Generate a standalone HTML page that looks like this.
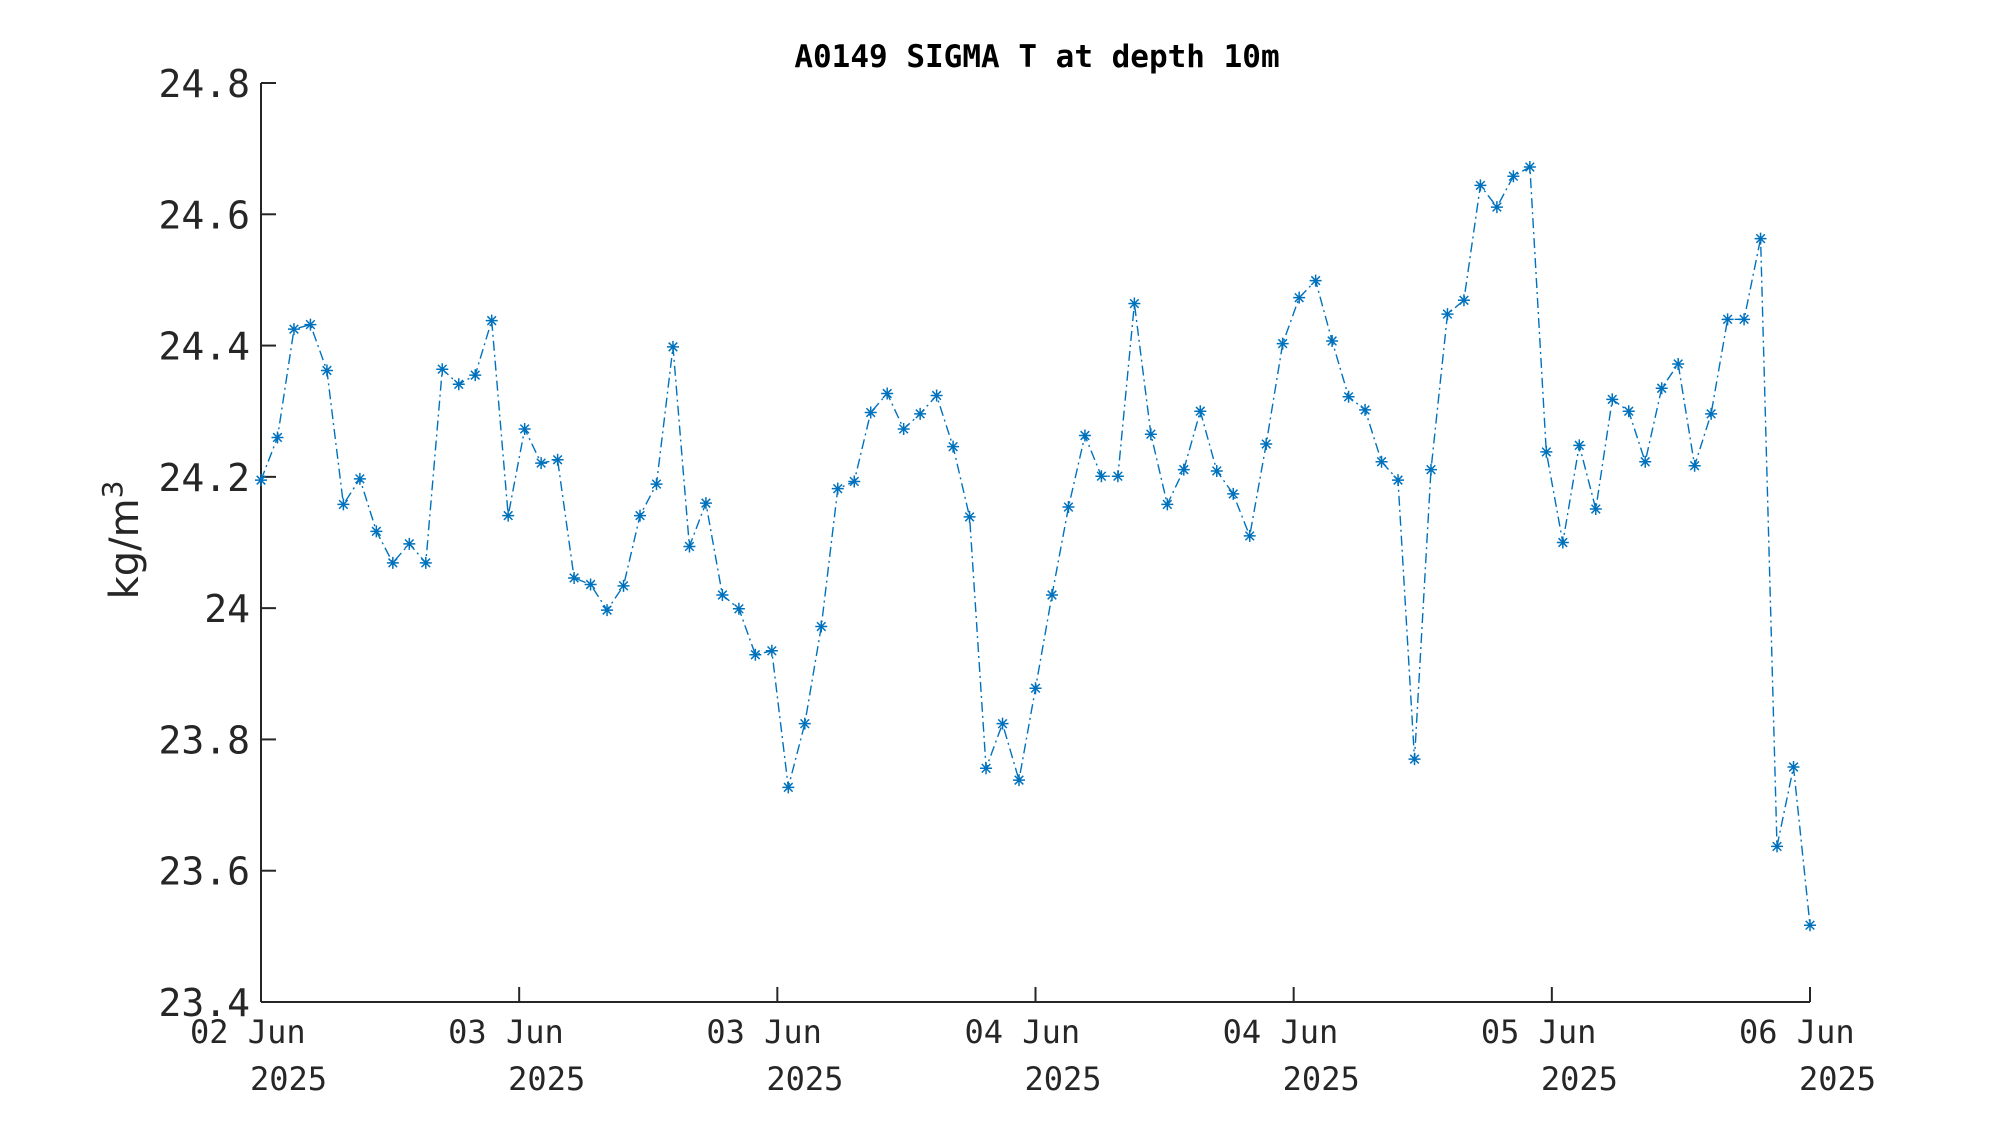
<!DOCTYPE html>
<html><head><meta charset="utf-8"><style>
html,body{margin:0;padding:0;background:#fff;}
svg{display:block;}
text{font-family:"DejaVu Sans Mono","Liberation Mono",monospace;fill:#262626;}
</style></head><body>
<svg id="chart" width="2000" height="1125" viewBox="0 0 2000 1125" xmlns="http://www.w3.org/2000/svg">
<rect width="2000" height="1125" fill="#fff"/>
<text x="1037" y="67" text-anchor="middle" style="font-weight:bold;font-size:31px;fill:#000">A0149 SIGMA T at depth 10m</text>
<text transform="translate(138,540) rotate(-90)" text-anchor="middle" style="font-family:'DejaVu Sans','Liberation Sans',sans-serif;font-size:40px">kg/m<tspan dy="-16" style="font-size:28px">3</tspan></text>
<g id="axes"></g>
<g id="series"></g>
</svg>
<script>
const values = [24.195,24.26,24.425,24.432,24.362,24.158,24.197,24.117,24.069,24.098,
24.069,24.364,24.341,24.355,24.438,24.141,24.273,24.221,24.226,24.046,
24.036,23.997,24.034,24.141,24.189,24.398,24.094,24.160,24.020,23.999,
23.929,23.935,23.727,23.824,23.972,24.182,24.193,24.298,24.327,24.273,
24.296,24.324,24.246,24.139,23.756,23.824,23.738,23.878,24.020,24.154,
24.263,24.201,24.201,24.464,24.265,24.158,24.211,24.300,24.209,24.174,
24.110,24.250,24.403,24.473,24.499,24.407,24.322,24.302,24.223,24.195,
23.770,24.211,24.448,24.469,24.644,24.611,24.658,24.672,24.238,24.100,
24.248,24.151,24.318,24.300,24.223,24.335,24.372,24.217,24.296,24.440,
24.440,24.563,23.637,23.758,23.517];
const yTicks = [23.4,23.6,23.8,24,24.2,24.4,24.6,24.8];
const yTickLabels = ["23.4","23.6","23.8","24","24.2","24.4","24.6","24.8"];
const xTickDays = ["02 Jun","03 Jun","03 Jun","04 Jun","04 Jun","05 Jun","06 Jun"];
const xTickYears = ["2025","2025","2025","2025","2025","2025","2025"];

const L=261,R=1810,T=83,B=1002,yMin=23.4,yMax=24.8;
const n=values.length;
function xs(i){return L+(R-L)*i/(n-1);}
function ys(v){return B-(B-T)*(v-yMin)/(yMax-yMin);}
const NS="http://www.w3.org/2000/svg";
const axes=document.getElementById('axes');
const ser=document.getElementById('series');
function mk(tag,attrs,parent){const e=document.createElementNS(NS,tag);for(const k in attrs)e.setAttribute(k,attrs[k]);parent.appendChild(e);return e;}

const xl=mk('line',{x1:L,y1:B,x2:R,y2:B,stroke:'#262626','stroke-width':2},axes);


const yl=mk('line',{x1:L,y1:T,x2:L,y2:B,stroke:'#262626','stroke-width':2},axes);



yTicks.forEach((v,i)=>{
  const y=ys(v);
  const t=mk('line',{x1:L,y1:y,x2:L+15,y2:y,stroke:'#262626','stroke-width':2},axes);
  
  
  const tx=mk('text',{x:250,y:y+14,'text-anchor':'end','font-size':38},axes);
  
  
  tx.textContent=yTickLabels[i];
});
xTickDays.forEach((d,i)=>{
  const x=L+(R-L)*i/(xTickDays.length-1);
  const t=mk('line',{x1:x,y1:B,x2:x,y2:B-15,stroke:'#262626','stroke-width':2},axes);
  
  
  const a=mk('text',{x:x-71,y:1043,'font-size':32},axes);
  
  
  a.textContent=d;
  const b=mk('text',{x:x-11,y:1090,'font-size':32},axes);
  
  
  b.textContent=xTickYears[i];
});

const pts=values.map((v,i)=>xs(i).toFixed(1)+','+ys(v).toFixed(1)).join(' ');
const pl=mk('polyline',{points:pts,fill:'none',stroke:'#0072BD','stroke-width':1.4,'stroke-dasharray':'10 4 2 4'},ser);


values.forEach((v,i)=>{
  const x=xs(i),y=ys(v),r=6,d=4.3;
  const g=mk('path',{d:`M${x-r},${y}H${x+r}M${x},${y-r}V${y+r}M${x-d},${y-d}L${x+d},${y+d}M${x-d},${y+d}L${x+d},${y-d}`,stroke:'#0072BD','stroke-width':1.5,fill:'none'},ser);
  
  
});
</script>
</body></html>
